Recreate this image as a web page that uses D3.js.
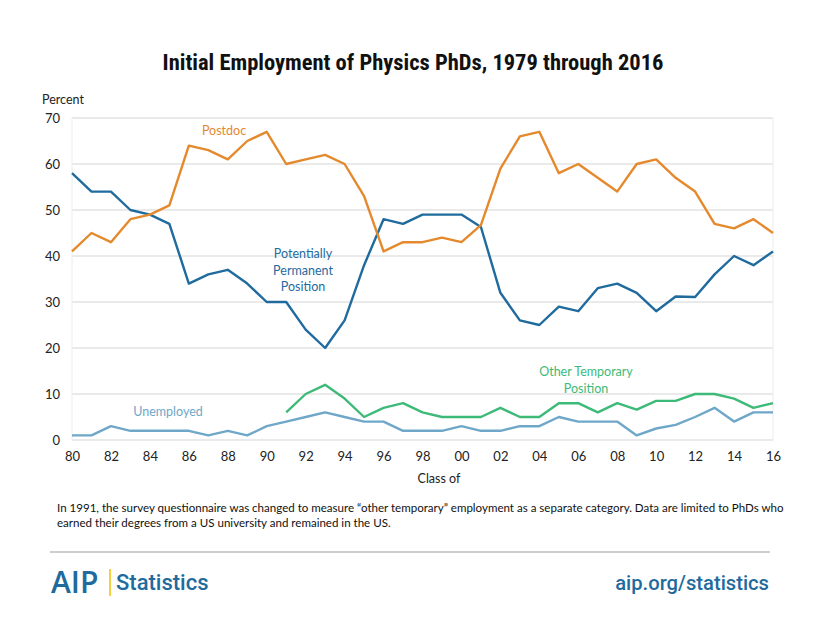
<!DOCTYPE html>
<html><head><meta charset="utf-8">
<script src="https://cdn.jsdelivr.net/npm/d3@7"></script>
<style>
body{margin:0;background:#fff;}
svg{display:block;}
text{font-family:Lato,"Open Sans",sans-serif;}
</style></head>
<body><svg id="c" width="820" height="633"></svg>
<script>
const years = d3.range(1980, 2017);
const postdoc = [41,45,43,48,49,51,64,63,61,65,67,60,61,62,60,53,41,43,43,44,43,46.7,59,66,67,58,60,57,54,60,61,57,54,47,46,48,45];
const permanent = [58,54,54,50,49,47,34,36,37,34,30,30,24,20,26,38,48,47,49,49,49,46.3,32,26,25,29,28,33,34,32,28,31.2,31.1,36,40,38,41];
const otherTemp = [null,null,null,null,null,null,null,null,null,null,null,6,10,12,9,5,7,8,6,5,5,5,7,5,5,8,8,6,8,6.6,8.5,8.5,10,10,9,7,8];
const unemployed = [1,1,3,2,2,2,2,1,2,1,3,4,5,6,5,4,4,2,2,2,3,2,2,3,3,5,4,4,4,1,2.5,3.3,5,7,4,6,6];
const yTicks = [0,10,20,30,40,50,60,70];
const xTicks = d3.range(1980, 2017, 2);

const svg = d3.select("#c");
const x = d3.scaleLinear().domain([1980, 2016]).range([72, 773]);
const y = d3.scaleLinear().domain([0, 70]).range([440, 118]);

// title
svg.append("text").attr("x", 413).attr("y", 70).attr("text-anchor", "middle")
  .style("font-family", "Roboto,sans-serif").style("font-stretch", "condensed").attr("font-weight", "bold")
  .attr("font-size", 22.5).attr("fill", "#111")
  .text("Initial Employment of Physics PhDs, 1979 through 2016");

// grid
svg.append("g").selectAll("line").data(yTicks).join("line")
  .attr("x1", x(1980)).attr("x2", x(2016)).attr("y1", d => y(d)).attr("y2", d => y(d))
  .attr("stroke", "#e3e3e3").attr("stroke-width", 1.3);
svg.append("g").selectAll("line").data([1980, 2016]).join("line")
  .attr("x1", d => x(d)).attr("x2", d => x(d)).attr("y1", y(0)).attr("y2", y(70))
  .attr("stroke", "#ececec").attr("stroke-width", 1);

// y axis
const yAxis = svg.append("g").attr("transform", `translate(${x(1980)},0)`)
  .call(d3.axisLeft(y).tickValues(yTicks).tickSize(0).tickPadding(12));
yAxis.select(".domain").remove();
yAxis.selectAll("text").attr("font-size", 13).attr("fill", "#222").style("font-family", "Lato,sans-serif");

// x axis
const xAxis = svg.append("g").attr("transform", `translate(0,${y(0)})`)
  .call(d3.axisBottom(x).tickValues(xTicks).tickSize(0).tickPadding(12)
    .tickFormat(d => String(d % 100).padStart(2, "0")));
xAxis.select(".domain").remove();
xAxis.selectAll("text").attr("font-size", 13).attr("fill", "#222").style("font-family", "Lato,sans-serif");

svg.append("text").attr("x", 42).attr("y", 104).attr("font-size", 12.5).attr("fill", "#222").text("Percent");
svg.append("text").attr("x", 439).attr("y", 483).attr("text-anchor", "middle").attr("font-size", 12.5).attr("fill", "#222").text("Class of");

// lines
const series = [
  {vals: unemployed, color: "#6fa7c9"},
  {vals: otherTemp, color: "#3dba78"},
  {vals: permanent, color: "#1f6b9e"},
  {vals: postdoc, color: "#e5892d"}
];
const line = d3.line().defined(d => d[1] != null).x(d => x(d[0])).y(d => y(d[1]));
svg.append("g").selectAll("path").data(series).join("path")
  .attr("d", s => line(years.map((yr, i) => [yr, s.vals[i]])))
  .attr("fill", "none").attr("stroke", s => s.color).attr("stroke-width", 2.4)
  .attr("stroke-linejoin", "round");

// labels
function lab(lines, cx, cy, color) {
  const t = svg.append("text").attr("text-anchor", "middle").attr("font-size", 12.5).attr("fill", color);
  lines.forEach((l, i) => t.append("tspan").attr("x", cx).attr("y", cy + i * 16.5).text(l));
}
lab(["Postdoc"], 224, 135, "#e5892d");
lab(["Potentially", "Permanent", "Position"], 303, 258, "#1f6b9e");
lab(["Unemployed"], 168, 416, "#6fa7c9");
lab(["Other Temporary", "Position"], 586, 376, "#3dba78");

// note
const note = svg.append("text").attr("font-size", 11.55).attr("fill", "#111");
note.append("tspan").attr("x", 57).attr("y", 512).text("In 1991, the survey questionnaire was changed to measure \u201cother temporary\u201d employment as a separate category. Data are limited to PhDs who");
note.append("tspan").attr("x", 57).attr("y", 527).text("earned their degrees from a US university and remained in the US.");

// footer
svg.append("line").attr("x1", 50).attr("x2", 770).attr("y1", 552).attr("y2", 552).attr("stroke", "#bdbdbd").attr("stroke-width", 1.3);
svg.append("text").attr("x", 51).attr("y", 593).attr("font-size", 30).attr("font-weight", 600)
  .style("font-family", "'Open Sans',sans-serif").attr("fill", "#1f6b9e").text("AIP");
svg.append("line").attr("x1", 110).attr("x2", 110).attr("y1", 569).attr("y2", 596).attr("stroke", "#f2c200").attr("stroke-width", 1.5);
svg.append("text").attr("x", 116).attr("y", 590).attr("font-size", 22).attr("font-weight", 500)
  .style("font-family", "Roboto,sans-serif").attr("fill", "#1f6b9e").text("Statistics");
svg.append("text").attr("x", 769).attr("y", 590).attr("text-anchor", "end").attr("font-size", 20.2).attr("font-weight", 500)
  .style("font-family", "Roboto,sans-serif").attr("fill", "#1f6b9e").text("aip.org/statistics");
</script></body></html>
